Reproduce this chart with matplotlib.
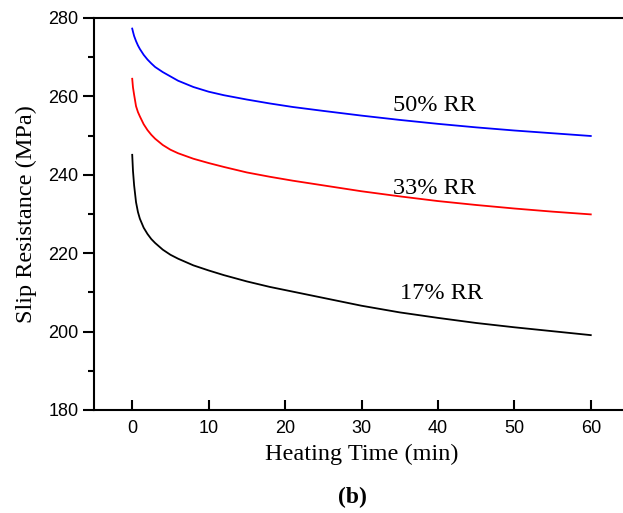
import numpy as np
import matplotlib.pyplot as plt

# heating time (min) and slip resistance (MPa) for three rolling reductions
time_min = [0, 0.1, 0.25, 0.5, 0.75, 1, 1.5, 2, 2.5, 3, 4, 5, 6, 8, 10, 12, 15,
            18, 21, 25, 30, 35, 40, 45, 50, 55, 60]
rr50 = [277.3, 276.5, 275.4, 274.1, 273.0, 272.1, 270.6, 269.4, 268.4, 267.5, 266.2,
        265.1, 264.0, 262.4, 261.2, 260.3, 259.2, 258.2, 257.3, 256.3, 255.1, 254.0,
        253.0, 252.1, 251.3, 250.6, 249.9]
rr33 = [264.5, 262.3, 260.4, 257.5, 256.0, 254.9, 252.9, 251.4, 250.2, 249.2, 247.6,
        246.4, 245.5, 244.1, 243.0, 242.0, 240.6, 239.5, 238.5, 237.3, 235.8, 234.5,
        233.3, 232.3, 231.4, 230.6, 229.9]
rr17 = [245.1, 241.0, 237.3, 233.0, 230.5, 228.8, 226.5, 224.9, 223.6, 222.6, 220.9,
        219.6, 218.6, 216.9, 215.6, 214.4, 212.8, 211.4, 210.2, 208.6, 206.6, 204.9,
        203.5, 202.2, 201.1, 200.1, 199.1]

labels = ['50% RR', '33% RR', '17% RR']
label_pos = [(39.6, 257.8), (39.6, 236.6), (40.5, 209.7)]

fig = plt.figure(figsize=(6.23, 5.13), dpi=100)
ax = fig.add_axes([94 / 623, 103 / 513, 535 / 623, 392 / 513])

ax.plot(time_min, rr50, color='#0000ff', lw=1.3)
ax.plot(time_min, rr33, color='#ff0000', lw=1.3)
ax.plot(time_min, rr17, color='black', lw=1.3)

serif = 'Liberation Serif'
for text, (x, y) in zip(labels, label_pos):
    ax.text(x, y, text, family=serif, fontsize=17.5, ha='center', va='center')

ax.set_xlim(-5, 65)
ax.set_ylim(180, 280)
ax.set_xticks(np.arange(0, 61, 10))
ax.set_yticks(np.arange(180, 281, 20))
ax.set_yticks(np.arange(190, 280, 20), minor=True)

ax.spines['right'].set_visible(False)
for s in ['left', 'bottom', 'top']:
    ax.spines[s].set_linewidth(1.5)

ax.tick_params(axis='x', direction='in', length=7, width=1.5, pad=7,
               labelsize=13, labelfontfamily='Liberation Sans')
ax.tick_params(axis='y', which='major', direction='out', length=8, width=1.5, pad=3,
               labelsize=13, labelfontfamily='Liberation Sans')
ax.tick_params(axis='y', which='minor', direction='out', length=4, width=1.5)

ax.set_xlabel('Heating Time (min)', family=serif, fontsize=17.5, labelpad=5)
ax.set_ylabel('Slip Resistance (MPa)', family=serif, fontsize=17.5, labelpad=8)

fig.text(352 / 623, 1 - 497 / 513, '(b)', family=serif, fontsize=17,
         fontweight='bold', ha='center', va='center')

fig.savefig('out.png', dpi=100)
